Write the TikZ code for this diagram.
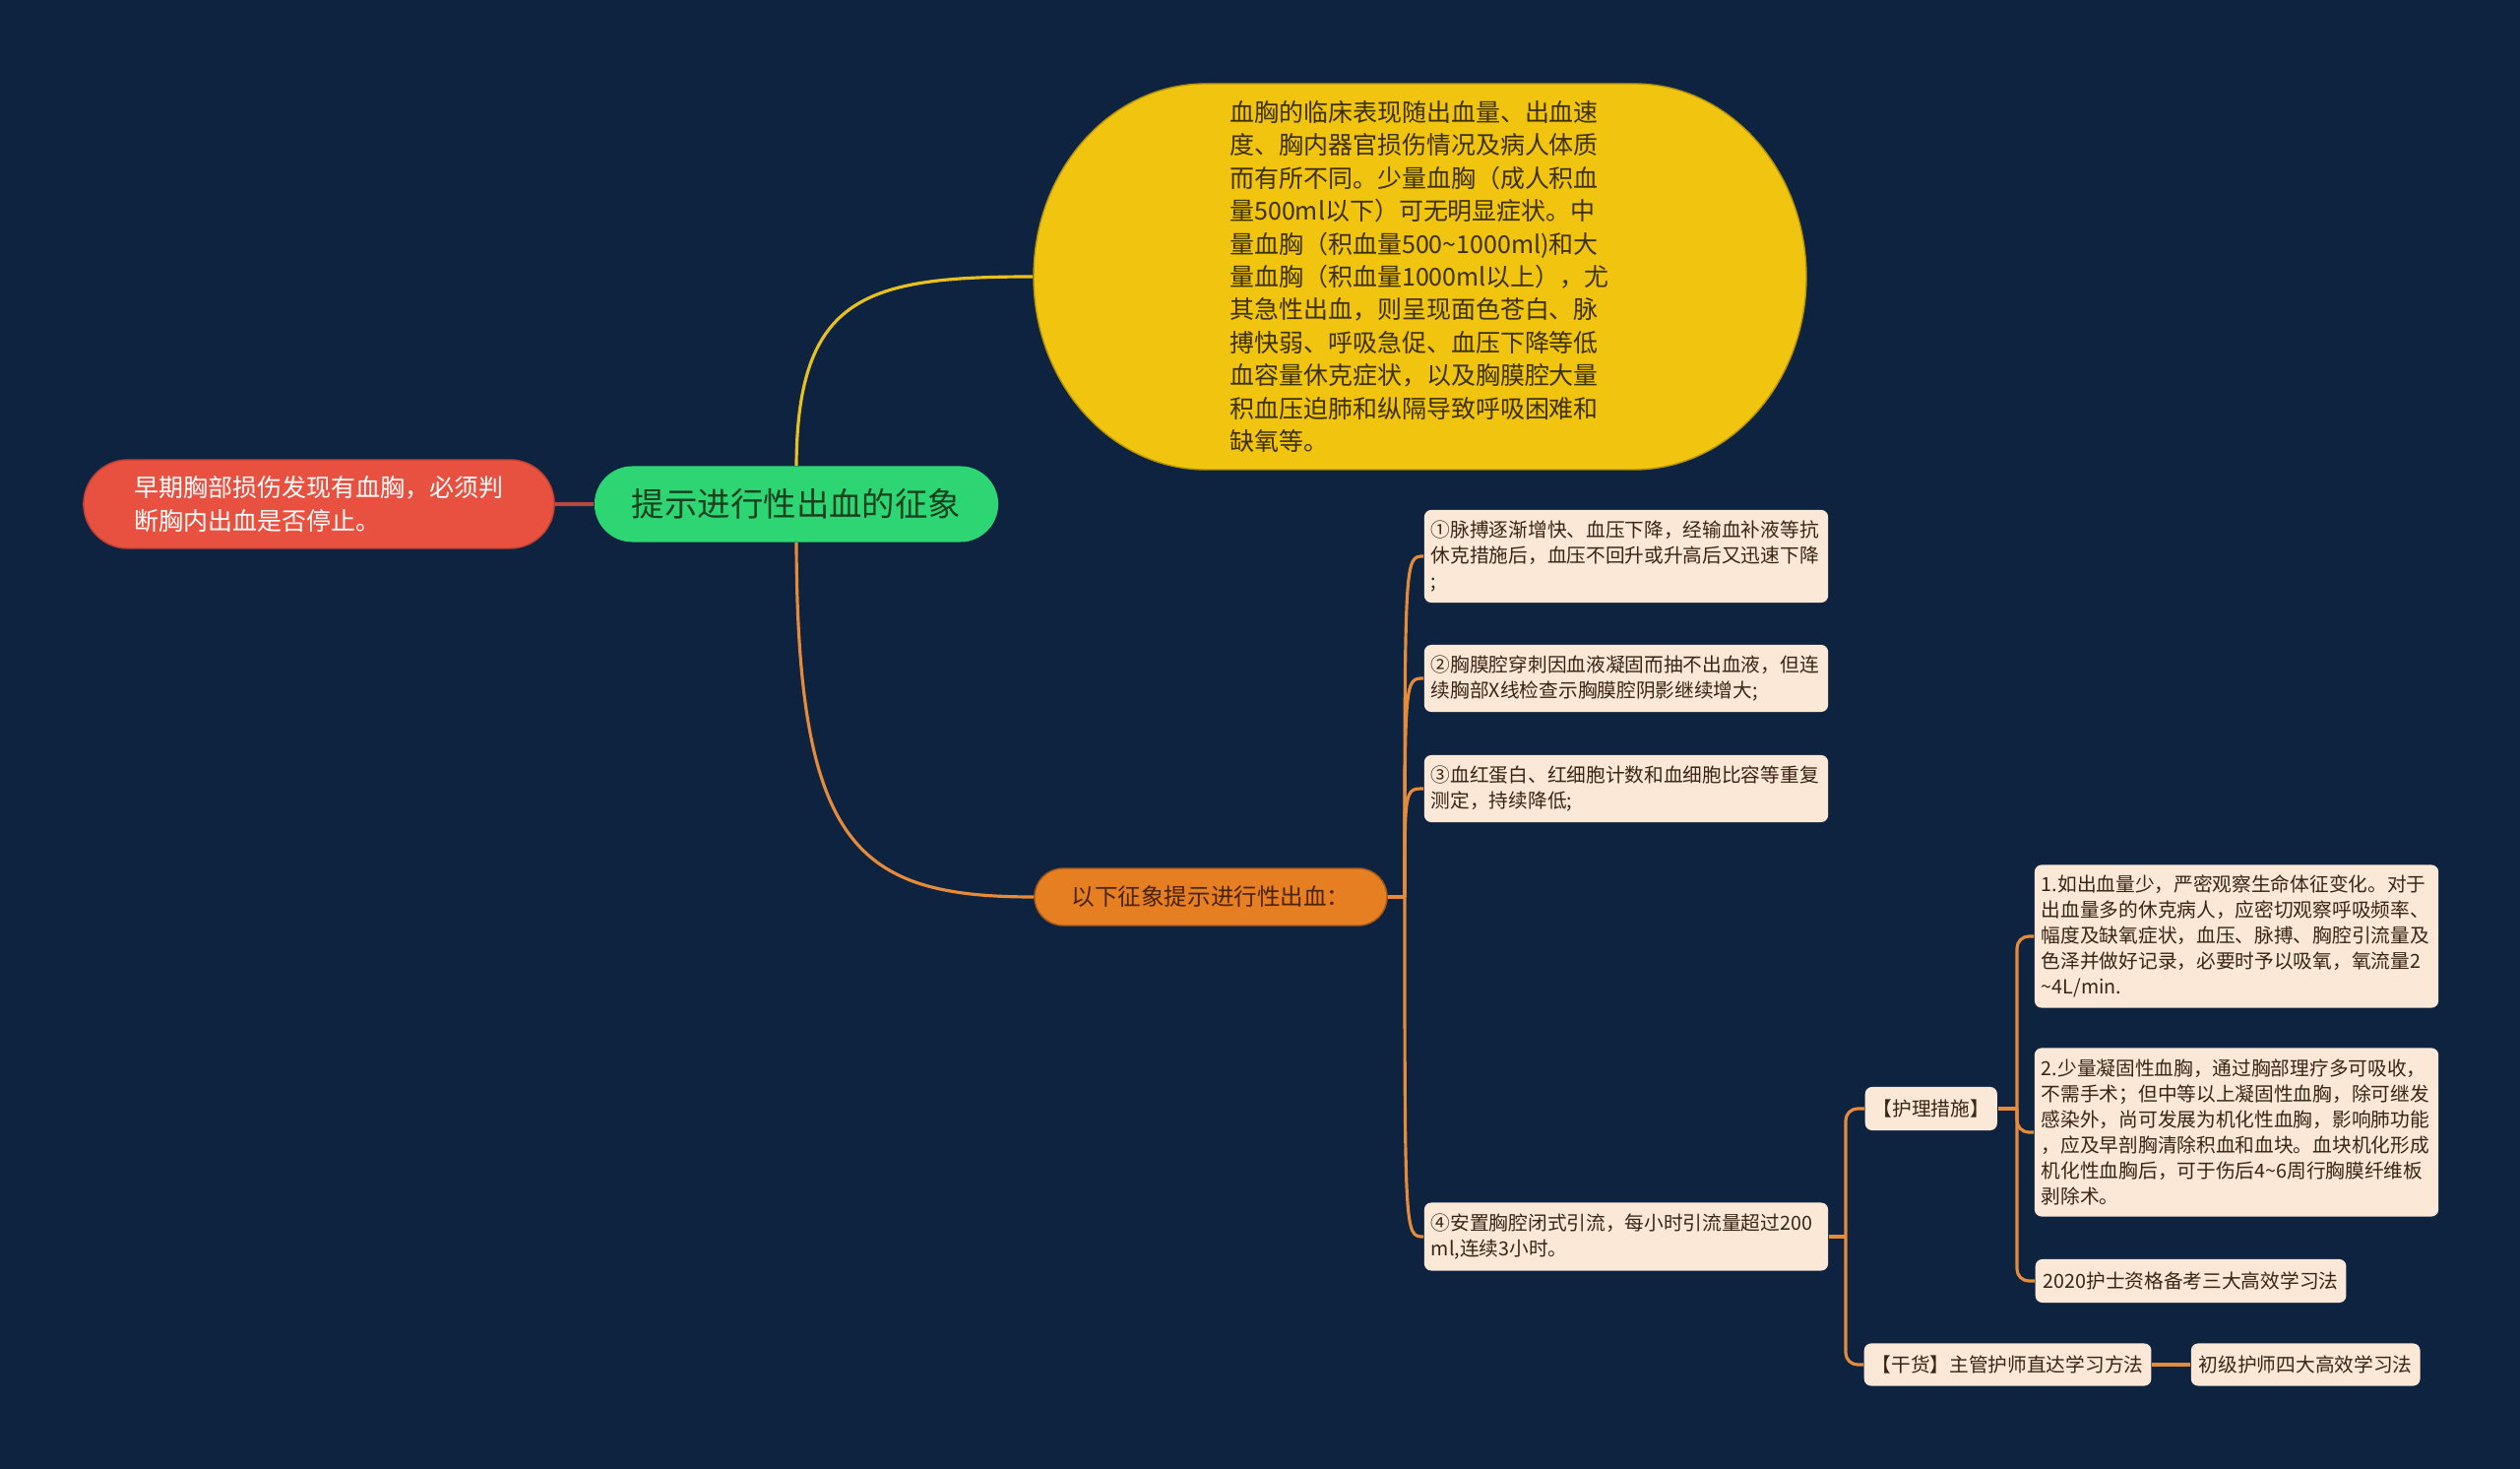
\documentclass[tikz,border=0pt]{standalone}
\usepackage{fontspec}
\setmainfont{Noto Sans CJK SC}
\usepackage{tikz}
\usetikzlibrary{positioning,calc}
\definecolor{bg}{HTML}{0D2340}
\definecolor{redn}{HTML}{E8503F}
\definecolor{greenn}{HTML}{2ED573}
\definecolor{yellown}{HTML}{F1C40F}
\definecolor{orangen}{HTML}{E67E22}
\definecolor{cardfill}{HTML}{FCE8D6}
\definecolor{cardtxt}{HTML}{3A2416}
\definecolor{greentxt}{HTML}{17401F}
\definecolor{yellowtxt}{HTML}{3D3100}
\definecolor{orangetxt}{HTML}{4A2305}
\definecolor{linkc}{HTML}{E58B3A}
\definecolor{yellowline}{HTML}{E8C020}
\definecolor{redline}{HTML}{B8473F}
\newcommand{\fsz}[2]{\fontsize{#1}{#2}\selectfont}

\begin{document}
\begin{tikzpicture}[x=0.01cm,y=-0.01cm,
  pill/.style={rounded corners=#1,inner sep=0pt,align=left},
  card/.style={fill=cardfill,rounded corners=0.07cm,text=cardtxt,align=left,inner xsep=0.08cm,inner ysep=0.04cm,font=\fsz{5.6}{7.4}},
  wide/.style={card,text width=3.96cm,inner xsep=0.07cm},
  link/.style={line width=0.9pt,linkc}]
\path[use as bounding box,fill=bg] (0,0) rectangle (2560,1492);

% main topic and side note
\node[pill=0.45cm,fill=redn,draw=redn!80!black,text=white,minimum width=4.78cm,minimum height=0.9cm,font=\fsz{7.1}{9.6}] (early) at (324,512) {早期胸部损伤发现有血胸，必须判\\断胸内出血是否停止。};
\node[pill=0.385cm,fill=greenn,text=greentxt,minimum width=4.10cm,minimum height=0.77cm,font=\fsz{9.5}{11}] (sign) at (809,512) {提示进行性出血的征象};

% clinical picture (stadium with elliptical ends)
\filldraw[fill=yellown,draw=yellown!75!black,line width=0.4pt] (1225,85) -- (1660,85)
  arc[start angle=-90,end angle=90,x radius=175,y radius=196] -- (1225,477)
  arc[start angle=90,end angle=270,x radius=175,y radius=196] -- cycle;
\node[inner sep=0pt,align=left,text=yellowtxt,minimum width=7.84cm,minimum height=3.92cm,font=\fsz{7.1}{9.5}] (clin) at (1442,281) {血胸的临床表现随出血量、出血速\\度、胸内器官损伤情况及病人体质\\而有所不同。少量血胸（成人积血\\量500ml以下）可无明显症状。中\\量血胸（积血量500\textasciitilde 1000ml)和大\\量血胸（积血量1000ml以上），尤\\其急性出血，则呈现面色苍白、脉\\搏快弱、呼吸急促、血压下降等低\\血容量休克症状，以及胸膜腔大量\\积血压迫肺和纵隔导致呼吸困难和\\缺氧等。};

% signs list
\node[pill=0.29cm,fill=orangen,draw=orangen!70!black,text=orangetxt,minimum width=3.58cm,minimum height=0.58cm,font=\fsz{6.7}{8}] (list) at (1230,911) {以下征象提示进行性出血：};
\node[wide,minimum height=0.94cm] (s1) at (1652,565) {①脉搏逐渐增快、血压下降，经输血补液等抗\\休克措施后，血压不回升或升高后又迅速下降\\;};
\node[wide,minimum height=0.68cm] (s2) at (1652,689) {②胸膜腔穿刺因血液凝固而抽不出血液，但连\\续胸部X线检查示胸膜腔阴影继续增大;};
\node[wide,minimum height=0.68cm] (s3) at (1652,801) {③血红蛋白、红细胞计数和血细胞比容等重复\\测定，持续降低;};
\node[wide,minimum height=0.69cm] (s4) at (1652,1256) {④安置胸腔闭式引流，每小时引流量超过200\\ml,连续3小时。};

% nursing
\node[card,minimum height=0.44cm,anchor=west] (care) at (1894,1126) {【护理措施】};
\node[wide,minimum height=1.45cm] (c1) at (2272,951) {1.如出血量少，严密观察生命体征变化。对于\\出血量多的休克病人，应密切观察呼吸频率、\\幅度及缺氧症状，血压、脉搏、胸腔引流量及\\色泽并做好记录，必要时予以吸氧，氧流量2\\\textasciitilde 4L/min.};
\node[wide,minimum height=1.71cm] (c2) at (2272,1150) {2.少量凝固性血胸，通过胸部理疗多可吸收，\\不需手术；但中等以上凝固性血胸，除可继发\\感染外，尚可发展为机化性血胸，影响肺功能\\，应及早剖胸清除积血和血块。血块机化形成\\机化性血胸后，可于伤后4\textasciitilde 6周行胸膜纤维板\\剥除术。};
\node[card,minimum height=0.44cm,anchor=west] (c3) at (2067,1301) {2020护士资格备考三大高效学习法};
\node[card,minimum height=0.43cm,anchor=west] (dry) at (1893,1386) {【干货】主管护师直达学习方法};
\node[card,minimum height=0.43cm,right=0.39cm of dry] (prim) {初级护师四大高效学习法};

% connectors
\draw[redline,line width=0.9pt] (early) -- (sign);
\draw[yellowline,line width=0.9pt] (sign.north) .. controls (810,300) and (880,281) .. (clin.west);
\draw[link] (sign.south) .. controls (810,860) and (870,911) .. (list.west);
\coordinate (hub) at (1427,911);
\draw[link] (list.east) -- (hub);
\foreach \n in {s1,s2,s3,s4}
  \draw[link] (hub) .. controls (hub |- \n.west) .. (\n.west);
\coordinate (j4) at (1875,1256);
\draw[link] (s4.east) -- (j4);
\draw[link,rounded corners=0.12cm] (j4) |- (care.west);
\draw[link,rounded corners=0.12cm] (j4) |- (dry.west);
\coordinate (jc) at (2049,1126);
\draw[link] (care.east) -- (jc);
\foreach \n in {c1,c2,c3}
  \draw[link,rounded corners=0.12cm] (jc) |- (\n.west);
\draw[link] (dry) -- (prim);
\end{tikzpicture}
\end{document}
